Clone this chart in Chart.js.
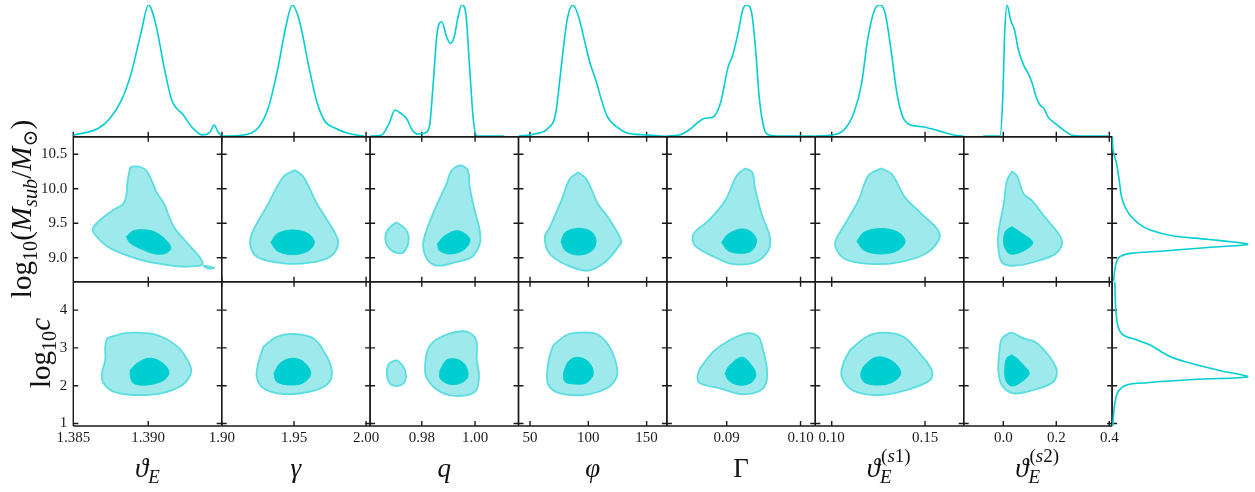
<!DOCTYPE html>
<html>
<head>
<meta charset="utf-8">
<script src="https://cdn.jsdelivr.net/npm/chart.js@4.4.1/dist/chart.umd.min.js"></script>
<style>
  body { margin: 0; background: #fff; width: 1255px; height: 492px; overflow: hidden; position: relative; font-family: "Liberation Serif", "DejaVu Serif", serif; color: #111; }
  canvas { position: absolute; left: 0; top: 0; }
  .xlab { position: absolute; top: 455px; width: 148px; text-align: center; font-size: 27px; line-height: 27px; white-space: nowrap; }
  .ylab { position: absolute; font-size: 29px; line-height: 29px; white-space: nowrap; transform: translate(-50%, -50%) rotate(-90deg); }
  sub, sup { line-height: 0; font-size: 70%; }
  .ss { display: inline-block; position: relative; width: 32px; height: 19px; font-size: 19px; line-height: 19px; vertical-align: baseline; text-align: left; }
  .ss span { position: absolute; left: 0; }
  .ss .up { top: -12px; left: 1px; }
  .ss .dn { top: 9px; }
</style>
</head>
<body>
<script>
// ---- axis ranges, ticks and tick labels ----
const thetaERange = [1.385, 1.3949];
const gammaRange = [1.8998, 2.0028];
const qRange = [0.9606, 1.0163];
const phiRange = [40.1, 167.4];
const bigGammaRange = [0.0819, 0.1020];
const thetaS1Range = [0.0912, 0.1707];
const thetaS2Range = [-0.1494, 0.4106];
const massRange = [8.652, 10.754];
const concRange = [0.934, 4.751];

const thetaETicks = [1.385, 1.390];
const thetaETickLabels = ['1.385', '1.390'];
const gammaTicks = [1.90, 1.95, 2.00];
const gammaTickLabels = ['1.90', '1.95', '2.00'];
const qTicks = [0.98, 1.00];
const qTickLabels = ['0.98', '1.00'];
const phiTicks = [50, 100, 150];
const phiTickLabels = ['50', '100', '150'];
const bigGammaTicks = [0.09, 0.10];
const bigGammaTickLabels = ['0.09', '0.10'];
const thetaS1Ticks = [0.10, 0.15];
const thetaS1TickLabels = ['0.10', '0.15'];
const thetaS2Ticks = [0.0, 0.2, 0.4];
const thetaS2TickLabels = ['0.0', '0.2', '0.4'];
const massTicks = [9.0, 9.5, 10.0, 10.5];
const massTickLabels = ['9.0', '9.5', '10.0', '10.5'];
const concTicks = [1, 2, 3, 4];
const concTickLabels = ['1', '2', '3', '4'];

// ---- 1D marginals (parameter value, normalised density) ----
const thetaEGrid = [1.385, 1.38668, 1.38745, 1.38822, 1.38886, 1.38951, 1.39002, 1.39054, 1.39105, 1.39157, 1.39234, 1.39298, 1.39362, 1.39414, 1.39439, 1.39465, 1.3949];
const thetaEDensity = [0.012, 0.064, 0.14, 0.279, 0.481, 0.785, 1.0, 0.835, 0.532, 0.279, 0.165, 0.064, 0.013, 0.038, 0.089, 0.038, 0.005];
const gammaGrid = [1.9004, 1.9151, 1.9257, 1.9324, 1.939, 1.9443, 1.9488, 1.9536, 1.9603, 1.9655, 1.9709, 1.9788, 1.9895, 1.9987];
const gammaDensity = [0.005, 0.013, 0.076, 0.228, 0.532, 0.835, 1.0, 0.886, 0.532, 0.279, 0.127, 0.064, 0.02, 0.005];
const qGrid = [0.9606, 0.96492, 0.96777, 0.96994, 0.97208, 0.97422, 0.9764, 0.97854, 0.98071, 0.98285, 0.98428, 0.98574, 0.98747, 0.9893, 0.99077, 0.99219, 0.99362, 0.99505, 0.99651, 0.99793, 0.99936, 1.00079, 1.01084];
const qDensity = [0.005, 0.013, 0.102, 0.203, 0.178, 0.14, 0.051, 0.02, 0.025, 0.076, 0.405, 0.785, 0.873, 0.759, 0.709, 0.759, 0.911, 1.0, 0.937, 0.532, 0.127, 0.005, 0.005];
const phiGrid = [40.1, 53.9, 65.4, 72, 76.8, 81.8, 86.7, 91.7, 96.6, 101.5, 106.4, 111.3, 116.3, 126.1, 132.7, 150.1, 161.6, 167.4];
const phiDensity = [0.005, 0.02, 0.064, 0.178, 0.532, 0.886, 1.0, 0.911, 0.734, 0.557, 0.43, 0.279, 0.152, 0.064, 0.03, 0.013, 0.005, 0.003];
const bigGammaGrid = [0.0819, 0.08358, 0.08491, 0.08623, 0.08703, 0.08808, 0.08915, 0.0902, 0.09074, 0.09153, 0.09216, 0.0927, 0.09339, 0.09392, 0.09444, 0.09513, 0.09577, 0.09736, 0.1020];
const bigGammaDensity = [0.005, 0.013, 0.051, 0.114, 0.14, 0.147, 0.254, 0.532, 0.607, 0.785, 0.962, 1.0, 0.937, 0.658, 0.279, 0.051, 0.013, 0.005, 0.005];
const thetaS1Grid = [0.0912, 0.1003, 0.10654, 0.11179, 0.11602, 0.11919, 0.12294, 0.12588, 0.12862, 0.13178, 0.13494, 0.13805, 0.14228, 0.14861, 0.15697, 0.16538, 0.1706];
const thetaS1Density = [0.005, 0.013, 0.051, 0.178, 0.405, 0.734, 0.962, 1.0, 0.937, 0.658, 0.329, 0.152, 0.089, 0.076, 0.046, 0.013, 0.005];
const thetaS2Grid = [-0.0762, -0.0125, -0.0023, 0.0053, 0.0143, 0.0276, 0.0423, 0.057, 0.0793, 0.094, 0.1091, 0.1238, 0.1385, 0.1532, 0.1679, 0.1978, 0.2272, 0.257, 0.3012, 0.3974];
const thetaS2Density = [0.005, 0.005, 0.279, 0.785, 1.0, 0.886, 0.81, 0.658, 0.532, 0.481, 0.405, 0.304, 0.241, 0.215, 0.152, 0.097, 0.051, 0.013, 0.005, 0.005];
const massGrid = [10.75, 10.561, 10.368, 10.126, 9.884, 9.739, 9.619, 9.499, 9.401, 9.314, 9.267, 9.194, 9.155, 9.097, 9.063, 9.015, 8.942, 8.822, 8.652];
const massDensity = [0.003, 0.007, 0.032, 0.052, 0.069, 0.094, 0.131, 0.192, 0.278, 0.451, 0.697, 0.993, 0.746, 0.377, 0.131, 0.057, 0.032, 0.02, 0.01];
const concGrid = [4.751, 4.003, 3.561, 3.341, 3.209, 3.077, 2.767, 2.548, 2.397, 2.238, 2.169, 2.079, 2.019, 1.841, 1.534, 1.093, 0.934];
const concDensity = [0.02, 0.027, 0.044, 0.081, 0.18, 0.278, 0.426, 0.623, 0.795, 0.993, 0.623, 0.254, 0.106, 0.044, 0.02, 0.007, 0.005];

// ---- 2D credible regions, row log10(Msub/Msun) ----
const massThetaE95 = [[1.38881, 10.314], [1.38935, 10.322], [1.38989, 10.257], [1.3906, 9.933], [1.39103, 9.793], [1.3917, 9.449], [1.39262, 9.209], [1.39363, 8.919], [1.39239, 8.870], [1.39128, 8.894], [1.38948, 8.967], [1.38747, 9.136], [1.38646, 9.329], [1.38632, 9.430], [1.38679, 9.546], [1.38767, 9.691], [1.38836, 9.788], [1.38854, 9.909], [1.38863, 10.126]];
const massThetaEIsland = [[1.39365, 8.885], [1.3941, 8.872], [1.3944, 8.85], [1.3940, 8.843]];
const massThetaE68 = [[1.38854, 9.304], [1.38903, 9.391], [1.38993, 9.401], [1.3906, 9.354], [1.39128, 9.232], [1.3915, 9.136], [1.39116, 9.064], [1.39049, 9.054], [1.3897, 9.112], [1.38881, 9.209]];
const massGamma95 = [[1.9507, 10.271], [1.9565, 10.174], [1.9658, 9.788], [1.9773, 9.401], [1.9807, 9.209], [1.975, 9.014], [1.9611, 8.928], [1.9426, 8.919], [1.9241, 9.014], [1.9195, 9.209], [1.9218, 9.401], [1.931, 9.739], [1.9426, 10.174]];
const massGamma68 = [[1.934, 9.223], [1.9385, 9.349], [1.9491, 9.401], [1.9597, 9.349], [1.9641, 9.223], [1.9597, 9.097], [1.9491, 9.045], [1.9385, 9.097]];
const massQIsland = [[0.9705, 9.513], [0.9739, 9.416], [0.9751, 9.271], [0.9739, 9.112], [0.9718, 9.064], [0.968, 9.126], [0.9663, 9.271], [0.9674, 9.416]];
const massQ95 = [[0.9955, 10.333], [0.99737, 10.261], [0.99801, 10.02], [0.99989, 9.681], [1.00176, 9.391], [1.00176, 9.199], [0.99861, 9.006], [0.99238, 8.933], [0.98612, 8.884], [0.98236, 8.957], [0.98049, 9.174], [0.98173, 9.391], [0.98548, 9.754], [0.98923, 10.068], [0.99111, 10.261], [0.99362, 10.333]];
const massQ68 = [[0.98585, 9.199], [0.98863, 9.319], [0.99362, 9.391], [0.99801, 9.271], [0.99613, 9.126], [0.99111, 9.054], [0.98675, 9.101]];
const massPhi95 = [[91.2, 10.238], [98.3, 10.141], [108.3, 9.778], [116.9, 9.586], [128.3, 9.246], [125.5, 9.151], [114.1, 8.933], [99.7, 8.812], [82.6, 8.884], [66.9, 9.054], [62.6, 9.296], [66.9, 9.441], [76.8, 9.826], [84, 10.141]];
const massPhi68 = [[76.6, 9.232], [80.5, 9.37], [91.8, 9.425], [103, 9.37], [106.6, 9.232], [103, 9.10], [91.8, 9.039], [80.5, 9.10]];
const massBigGamma95 = [[0.09247, 10.296], [0.09346, 10.238], [0.09382, 10.02], [0.09473, 9.633], [0.09585, 9.296], [0.09562, 9.101], [0.09382, 8.933], [0.09068, 8.909], [0.08842, 9.006], [0.08572, 9.174], [0.08549, 9.343], [0.08751, 9.536], [0.08977, 9.826], [0.09135, 10.188]];
const massBigGamma68 = [[0.08932, 9.223], [0.09022, 9.343], [0.09203, 9.416], [0.09338, 9.368], [0.09405, 9.246], [0.09338, 9.101], [0.09203, 9.064], [0.09022, 9.101]];
const massThetaS195 = [[0.12642, 10.296], [0.13215, 10.213], [0.13928, 9.875], [0.14823, 9.633], [0.15713, 9.391], [0.15713, 9.246], [0.15, 9.054], [0.13569, 8.933], [0.12144, 8.909], [0.10713, 8.981], [0.10177, 9.199], [0.10713, 9.488], [0.11425, 9.826], [0.11961, 10.188]];
const massThetaS168 = [[0.11356, 9.238], [0.11731, 9.368], [0.12642, 9.422], [0.13553, 9.368], [0.13928, 9.238], [0.13553, 9.108], [0.12642, 9.054], [0.11731, 9.108]];
const massThetaS295 = [[0.0328, 10.252], [0.0517, 10.188], [0.077, 9.923], [0.1083, 9.826], [0.1525, 9.609], [0.2091, 9.343], [0.2215, 9.199], [0.1962, 9.054], [0.1336, 8.957], [0.0453, 8.884], [-0.0049, 8.933], [-0.02, 9.199], [-0.0151, 9.441], [0.0015, 9.778], [0.014, 10.117]];
const massThetaS268 = [[0.0328, 9.449], [0.0642, 9.368], [0.111, 9.223], [0.077, 9.101], [0.0264, 9.054], [0.0053, 9.151], [0.0015, 9.271], [0.0102, 9.391]];

// ---- 2D credible regions, row log10 c ----
const concThetaE95 = [[1.38724, 3.254], [1.38836, 3.386], [1.38926, 3.402], [1.3906, 3.341], [1.39195, 3.032], [1.39273, 2.593], [1.39284, 2.328], [1.39228, 2.019], [1.39083, 1.799], [1.38903, 1.754], [1.38769, 1.841], [1.38702, 2.063], [1.38691, 2.328], [1.38713, 2.680], [1.38713, 3.032]];
const concThetaE68 = [[1.38881, 2.415], [1.38926, 2.593], [1.39004, 2.725], [1.39083, 2.635], [1.39138, 2.370], [1.39105, 2.151], [1.38993, 2.019], [1.38903, 2.063], [1.38881, 2.238]];
const concGamma95 = [[1.9287, 3.032], [1.938, 3.296], [1.9495, 3.368], [1.9634, 3.254], [1.9715, 2.857], [1.9762, 2.415], [1.9738, 2.063], [1.9611, 1.841], [1.9426, 1.780], [1.9287, 1.931], [1.9241, 2.238], [1.9252, 2.593]];
const concGamma68 = [[1.9361, 2.328], [1.9403, 2.593], [1.9484, 2.725], [1.9565, 2.635], [1.9616, 2.328], [1.9565, 2.079], [1.9472, 2.019], [1.938, 2.106]];
const concQIsland = [[0.97062, 2.680], [0.9731, 2.503], [0.97411, 2.238], [0.9731, 2.063], [0.97062, 1.992], [0.96784, 2.079], [0.96687, 2.370], [0.96784, 2.593]];
const concQ95 = [[0.98499, 3.209], [0.99062, 3.386], [0.99688, 3.429], [1.00037, 3.209], [1.00064, 2.680], [1.0015, 2.238], [1.0, 1.841], [0.99373, 1.728], [0.98687, 1.841], [0.98188, 2.196], [0.98124, 2.548], [0.98248, 2.989]];
const concQ68 = [[0.98687, 2.415], [0.98938, 2.680], [0.99313, 2.698], [0.99625, 2.548], [0.99726, 2.238], [0.99437, 2.063], [0.98998, 2.045], [0.98687, 2.196]];
const concPhi95 = [[70, 3.077], [81.5, 3.341], [92.9, 3.402], [107.2, 3.368], [117.2, 3.077], [123.8, 2.593], [124.4, 2.238], [115.8, 1.931], [95.7, 1.754], [75.7, 1.799], [65.7, 2.019], [64.8, 2.415], [66.6, 2.767]];
const concPhi68 = [[78.6, 2.328], [82.8, 2.635], [90.1, 2.751], [100, 2.635], [104.3, 2.328], [98.6, 2.079], [88.6, 2.045], [80, 2.106]];
const concBigGamma95 = [[0.08639, 2.460], [0.08819, 2.899], [0.09045, 3.209], [0.0927, 3.386], [0.09427, 3.296], [0.09494, 2.944], [0.09549, 2.328], [0.09494, 1.931], [0.09224, 1.772], [0.0891, 1.931], [0.08639, 2.063], [0.08603, 2.238]];
const concBigGamma68 = [[0.08977, 2.328], [0.09045, 2.548], [0.09203, 2.751], [0.09315, 2.593], [0.09396, 2.283], [0.09315, 2.063], [0.09157, 2.019], [0.09022, 2.151]];
const concThetaS195 = [[0.10981, 2.944], [0.11876, 3.296], [0.12765, 3.402], [0.13837, 3.296], [0.14555, 2.944], [0.15359, 2.415], [0.15268, 2.151], [0.14019, 1.886], [0.12588, 1.754], [0.11158, 1.868], [0.10536, 2.238], [0.10622, 2.593]];
const concThetaS168 = [[0.11693, 2.503], [0.12229, 2.725], [0.12765, 2.751], [0.13392, 2.593], [0.13698, 2.328], [0.13301, 2.106], [0.12588, 2.019], [0.11785, 2.079], [0.11554, 2.283]];
const concThetaS295 = [[0, 3.296], [0.0317, 3.402], [0.0755, 3.254], [0.1196, 3.164], [0.1698, 2.812], [0.2015, 2.415], [0.1887, 2.106], [0.1132, 1.886], [0.0377, 1.799], [-0.006, 2.019], [-0.0189, 2.415], [-0.0151, 2.857], [-0.0098, 3.164]];
const concThetaS268 = [[0.0317, 2.812], [0.0506, 2.725], [0.0755, 2.548], [0.0981, 2.328], [0.0694, 2.106], [0.0317, 1.992], [0.0091, 2.151], [0.0064, 2.503], [0.0128, 2.725]];

// ---- layout ----
const W = 1255, H = 492;
const colLeft = [73.3, 221.7, 370.1, 518.5, 666.9, 815.3, 963.7];
const colW = 148.4;
const rowTop = [136.7, 281.7];
const rowBottom = [281.7, 426];
const margTop = 5;
const sideRight = 1248.7;

const CYAN = '#00ced1';
const LIGHT = '#9de9eb';
const EDGE = '#5cdde0';
const INK = '#1a1a1a';

Chart.defaults.font.family = '"Liberation Serif", serif';

const pts = pairs => pairs.map(([x, y]) => ({ x, y }));
const ring = pairs => pts(pairs.concat([pairs[0]]));
const zip = (a, b) => a.map((v, i) => ({ x: v, y: b[i] }));

function drawAxes(chart, o) {
  const { ctx, chartArea: a } = chart;
  const sx = chart.scales.x, sy = chart.scales.y;
  const tl = 5;
  const has = s => o.spines.indexOf(s) >= 0;
  ctx.save();
  ctx.strokeStyle = INK;
  ctx.lineWidth = 1.4;
  ctx.beginPath();
  if (has('top')) { ctx.moveTo(a.left, a.top); ctx.lineTo(a.right, a.top); }
  if (has('bottom')) { ctx.moveTo(a.left, a.bottom); ctx.lineTo(a.right, a.bottom); }
  if (has('left')) { ctx.moveTo(a.left, a.top); ctx.lineTo(a.left, a.bottom); }
  if (has('right')) { ctx.moveTo(a.right, a.top); ctx.lineTo(a.right, a.bottom); }
  sx.ticks.forEach(t => {
    const px = sx.getPixelForValue(t.value);
    if (has('bottom')) { ctx.moveTo(px, a.bottom); ctx.lineTo(px, a.bottom - tl); }
    if (has('top')) { ctx.moveTo(px, a.top); ctx.lineTo(px, a.top + tl); }
  });
  sy.ticks.forEach(t => {
    const py = sy.getPixelForValue(t.value);
    if (has('left')) { ctx.moveTo(a.left, py); ctx.lineTo(a.left + tl, py); }
    if (has('right')) { ctx.moveTo(a.right, py); ctx.lineTo(a.right - tl, py); }
  });
  ctx.stroke();

  ctx.fillStyle = INK;
  ctx.font = '15px "Liberation Serif"';
  if (o.xLabels) {
    ctx.textAlign = 'center';
    ctx.textBaseline = 'top';
    sx.ticks.forEach((t, i) => ctx.fillText(o.xLabels[i], sx.getPixelForValue(t.value), a.bottom + 5));
  }
  if (o.yLabels) {
    ctx.textAlign = 'right';
    ctx.textBaseline = 'middle';
    sy.ticks.forEach((t, i) => ctx.fillText(o.yLabels[i], a.left - 6, sy.getPixelForValue(t.value)));
  }
  ctx.restore();
}

function axesPlugin(o) {
  return {
    id: 'cornerAxes',
    beforeDatasetsDraw(chart) { if (o.under) drawAxes(chart, o); },
    afterDatasetsDraw(chart) { if (!o.under) drawAxes(chart, o); }
  };
}

function addChart(box, xr, yr, datasets, axes) {
  const cv = document.createElement('canvas');
  cv.width = W;
  cv.height = H;
  document.body.appendChild(cv);
  return new Chart(cv, {
    type: 'scatter',
    data: { datasets },
    options: {
      responsive: false,
      animation: false,
      events: [],
      devicePixelRatio: 1,
      layout: { padding: { left: box[0], top: box[1], right: W - box[2], bottom: H - box[3] } },
      plugins: { legend: { display: false }, tooltip: { enabled: false } },
      scales: {
        x: { type: 'linear', display: false, min: xr.range[0], max: xr.range[1],
             afterBuildTicks: s => { s.ticks = xr.ticks.map(v => ({ value: v })); } },
        y: { type: 'linear', display: false, min: yr.range[0], max: yr.range[1],
             afterBuildTicks: s => { s.ticks = yr.ticks.map(v => ({ value: v })); } }
      }
    },
    plugins: [axesPlugin(axes)]
  });
}

function region(pairs, inner) {
  return {
    data: ring(pairs),
    showLine: true,
    fill: 'shape',
    backgroundColor: inner ? CYAN : LIGHT,
    borderColor: inner ? CYAN : EDGE,
    borderWidth: inner ? 1 : 1.8,
    pointRadius: 0,
    tension: 0.35,
    order: inner ? 1 : 2
  };
}

function curve(data, monotone) {
  return {
    data,
    showLine: true,
    fill: false,
    borderColor: CYAN,
    borderWidth: 1.6,
    pointRadius: 0,
    tension: 0.3,
    cubicInterpolationMode: monotone ? 'monotone' : 'default'
  };
}

const columns = [
  { range: thetaERange, ticks: thetaETicks, labels: thetaETickLabels, grid: thetaEGrid, dens: thetaEDensity,
    mass: [massThetaE95, massThetaEIsland], massIn: [massThetaE68], conc: [concThetaE95], concIn: [concThetaE68] },
  { range: gammaRange, ticks: gammaTicks, labels: gammaTickLabels, grid: gammaGrid, dens: gammaDensity,
    mass: [massGamma95], massIn: [massGamma68], conc: [concGamma95], concIn: [concGamma68] },
  { range: qRange, ticks: qTicks, labels: qTickLabels, grid: qGrid, dens: qDensity,
    mass: [massQ95, massQIsland], massIn: [massQ68], conc: [concQ95, concQIsland], concIn: [concQ68] },
  { range: phiRange, ticks: phiTicks, labels: phiTickLabels, grid: phiGrid, dens: phiDensity,
    mass: [massPhi95], massIn: [massPhi68], conc: [concPhi95], concIn: [concPhi68] },
  { range: bigGammaRange, ticks: bigGammaTicks, labels: bigGammaTickLabels, grid: bigGammaGrid, dens: bigGammaDensity,
    mass: [massBigGamma95], massIn: [massBigGamma68], conc: [concBigGamma95], concIn: [concBigGamma68] },
  { range: thetaS1Range, ticks: thetaS1Ticks, labels: thetaS1TickLabels, grid: thetaS1Grid, dens: thetaS1Density,
    mass: [massThetaS195], massIn: [massThetaS168], conc: [concThetaS195], concIn: [concThetaS168] },
  { range: thetaS2Range, ticks: thetaS2Ticks, labels: thetaS2TickLabels, grid: thetaS2Grid, dens: thetaS2Density,
    mass: [massThetaS295], massIn: [massThetaS268], conc: [concThetaS295], concIn: [concThetaS268] }
];

const rows = [
  { range: massRange, ticks: massTicks, labels: massTickLabels, key: 'mass', grid: massGrid, dens: massDensity },
  { range: concRange, ticks: concTicks, labels: concTickLabels, key: 'conc', grid: concGrid, dens: concDensity }
];
const densAxis = { range: [0, 1], ticks: [] };

columns.forEach((c, i) => {
  const l = colLeft[i], r = colLeft[i] + colW;
  // marginal on top of each column
  addChart([l, margTop, r, rowTop[0]], c, densAxis, [curve(zip(c.grid, c.dens), true)],
    { spines: ['bottom'], under: true });
  rows.forEach((row, j) => {
    const sets = c[row.key].map(p => region(p, false)).concat(c[row.key + 'In'].map(p => region(p, true)));
    addChart([l, rowTop[j], r, rowBottom[j]], c, row, sets, {
      spines: ['top', 'bottom', 'left', 'right'],
      xLabels: j === 1 ? c.labels : null,
      yLabels: i === 0 ? row.labels : null
    });
  });
});

// marginals along the right edge
rows.forEach((row, j) => {
  addChart([colLeft[6] + colW, rowTop[j], sideRight, rowBottom[j]], densAxis, row,
    [curve(zip(row.dens, row.grid), false)], { spines: ['left'], under: true });
});

// axis titles as real text
const xTitles = [
  '<i>ϑ</i><sub><i>E</i></sub>',
  '<i>γ</i>',
  '<i>q</i>',
  '<i>φ</i>',
  'Γ',
  '<i>ϑ</i><span class="ss"><span class="up">(<i>s</i>1)</span><span class="dn"><i>E</i></span></span>',
  '<i>ϑ</i><span class="ss"><span class="up">(<i>s</i>2)</span><span class="dn"><i>E</i></span></span>'
];
xTitles.forEach((t, i) => {
  const d = document.createElement('div');
  d.className = 'xlab';
  d.style.left = colLeft[i] + 'px';
  d.style.width = colW + 'px';
  d.innerHTML = t;
  document.body.appendChild(d);
});
const yTitles = [
  { html: 'log<sub>10</sub>(<i>M</i><sub><i>sub</i></sub>/<i>M</i><sub>⊙</sub>)', x: 21, y: 209 },
  { html: 'log<sub>10</sub><i>c</i>', x: 40, y: 353 }
];
yTitles.forEach(t => {
  const d = document.createElement('div');
  d.className = 'ylab';
  d.style.left = t.x + 'px';
  d.style.top = t.y + 'px';
  d.innerHTML = t.html;
  document.body.appendChild(d);
});
</script>
</body>
</html>
